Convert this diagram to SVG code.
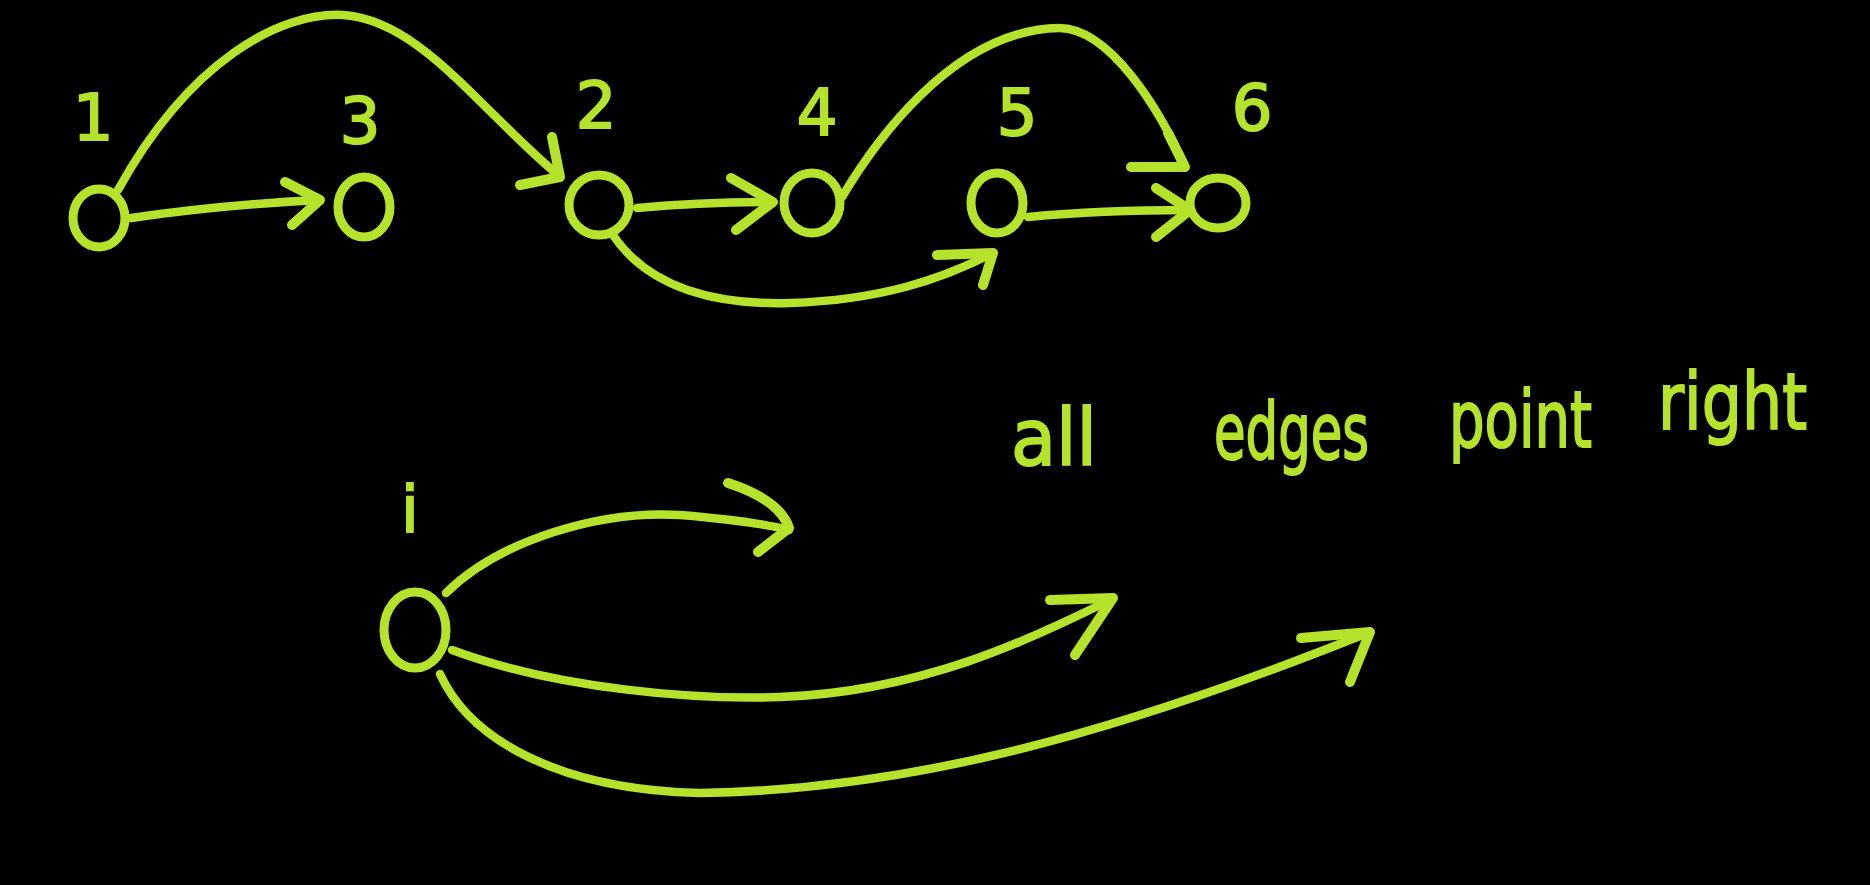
<svg xmlns="http://www.w3.org/2000/svg" width="1870" height="885" viewBox="0 0 1870 885">
<style>
.bg{fill:#000}
.node{fill:none;stroke:#b5e32b;stroke-width:9}
.edge{fill:none;stroke:#b5e32b;stroke-width:8.5;stroke-linecap:round;stroke-linejoin:round}
.head{fill:none;stroke:#b5e32b;stroke-width:10;stroke-linecap:round;stroke-linejoin:round}
.lbl{fill:#b5e32b;stroke:#b5e32b;stroke-width:2;font-family:"DejaVu Sans","Liberation Sans",sans-serif;font-size:64px;text-anchor:middle}
.note{fill:#b5e32b;stroke:#b5e32b;stroke-width:2;font-family:"DejaVu Sans","Liberation Sans",sans-serif;font-size:78px}
</style>
<rect class="bg" x="0" y="0" width="1870" height="885"/>
<g id="connectors">
  <path class="edge" d="M131,218 Q220,205 318,200"/>
  <path class="head" d="M285,182 L320,200 L292,225"/>
  <path class="edge" d="M118,190 C190,60 280,12 343,15 C420,20 480,110 558,175"/>
  <path class="head" d="M552,137 L560,177 L520,185"/>
  <path class="edge" d="M637,208 Q700,202 773,202"/>
  <path class="head" d="M731,178 L773,202 L736,230"/>
  <path class="edge" d="M842,197 C870,150 950,30 1059,28 C1110,28 1160,110 1185,167"/>
  <path class="head" d="M1168,133 L1185,167 L1131,167"/>
  <path class="edge" d="M613,235 C650,290 720,305 790,303 C880,300 940,280 993,253"/>
  <path class="head" d="M937,255 L993,253 L983,285"/>
  <path class="edge" d="M1028,217 Q1100,210 1190,210"/>
  <path class="head" d="M1156,188 L1190,210 L1156,237"/>
  <path class="edge" d="M446,593 C500,540 600,510 680,515 C740,520 770,525 789,530"/>
  <path class="head" d="M728,483 Q780,500 789,528 L758,552"/>
  <path class="edge" d="M452,650 C560,690 700,700 780,697 C920,692 1030,640 1110,600"/>
  <path class="head" d="M1050,600 L1113,598 L1075,655"/>
  <path class="edge" d="M440,674 C470,740 560,790 700,793 C900,790 1100,740 1370,632"/>
  <path class="head" d="M1301,638 L1370,632 L1350,682"/>
</g>
<g id="node-1"><ellipse class="node" cx="99" cy="218" rx="26" ry="29"/><text class="lbl" x="93" y="140">1</text></g>
<g id="node-3"><ellipse class="node" cx="364" cy="207" rx="26" ry="30"/><text class="lbl" x="360" y="143">3</text></g>
<g id="node-2"><ellipse class="node" cx="599" cy="205" rx="30" ry="30"/><text class="lbl" x="596" y="128">2</text></g>
<g id="node-4"><ellipse class="node" cx="812" cy="203" rx="28" ry="30"/><text class="lbl" x="817" y="135">4</text></g>
<g id="node-5"><ellipse class="node" cx="997" cy="203" rx="26" ry="30"/><text class="lbl" x="1017" y="135">5</text></g>
<g id="node-6"><ellipse class="node" cx="1218" cy="203" rx="28" ry="25"/><text class="lbl" x="1252" y="130">6</text></g>
<g id="node-i"><ellipse class="node" cx="415" cy="630" rx="31" ry="38"/><text class="lbl" x="410" y="532">i</text></g>
<g id="note">
  <text class="note" x="1011" y="465" textLength="86" lengthAdjust="spacingAndGlyphs">all</text>
  <text class="note" x="1214" y="459" textLength="155" lengthAdjust="spacingAndGlyphs">edges</text>
  <text class="note" x="1449" y="447" textLength="143" lengthAdjust="spacingAndGlyphs">point</text>
  <text class="note" x="1658" y="429" textLength="149" lengthAdjust="spacingAndGlyphs">right</text>
</g>
</svg>
